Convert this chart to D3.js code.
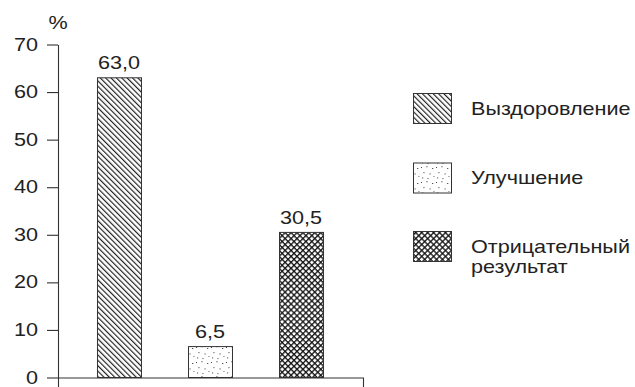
<!DOCTYPE html>
<html><head><meta charset="utf-8">
<script src="https://cdn.jsdelivr.net/npm/d3@7"></script>
<style>body{margin:0;background:#fff}svg{display:block}text{font-family:"Liberation Sans",Arial,sans-serif;fill:#222}</style>
</head><body>
<script>
const categories = ["Выздоровление", "Улучшение", "Отрицательный результат"];
const values = [63.0, 6.5, 30.5];
const valueLabels = ["63,0", "6,5", "30,5"];
const yTicks = [0, 10, 20, 30, 40, 50, 60, 70];
const legendLines = [["Выздоровление"], ["Улучшение"], ["Отрицательный", "результат"]];
const patternIds = ["hatch", "dots", "cross"];

const W = 635, H = 387, SX = 1.2, FS = 18;
const svg = d3.select("body").append("svg").attr("width", W).attr("height", H);
const defs = svg.append("defs");

// diagonal hatch
const p1 = defs.append("pattern").attr("id", "hatch").attr("patternUnits", "userSpaceOnUse")
  .attr("width", 3.8).attr("height", 3.8).attr("patternTransform", "rotate(-45)");
p1.append("rect").attr("width", 3.8).attr("height", 3.8).attr("fill", "#fff");
p1.append("line").attr("x1", 0.6).attr("y1", 0).attr("x2", 0.6).attr("y2", 3.8).attr("stroke", "#111").attr("stroke-width", 1.1);

// stipple
const p2 = defs.append("pattern").attr("id", "dots").attr("patternUnits", "userSpaceOnUse")
  .attr("width", 15).attr("height", 15);
p2.append("rect").attr("width", 15).attr("height", 15).attr("fill", "#fff");
const dotPts = [[1,2,1,1],[6.5,1,0.9,1.3],[12,3,1.3,0.9],[3.5,7,0.9,1.2],[9.5,8.5,1.2,0.9],[13.5,11,0.9,0.9],[2,12.5,1.2,0.9],[7.5,13,0.9,1.1]];
dotPts.forEach(d => p2.append("rect").attr("x", d[0]).attr("y", d[1]).attr("width", d[2]).attr("height", d[3]).attr("fill", "#444"));

// crosshatch
const p3 = defs.append("pattern").attr("id", "cross").attr("patternUnits", "userSpaceOnUse")
  .attr("width", 4.2).attr("height", 4.2).attr("patternTransform", "rotate(45)");
p3.append("rect").attr("width", 4.2).attr("height", 4.2).attr("fill", "#fff");
p3.append("line").attr("x1", 0.7).attr("y1", 0).attr("x2", 0.7).attr("y2", 4.2).attr("stroke", "#111").attr("stroke-width", 1.3);
p3.append("line").attr("x1", 0).attr("y1", 0.7).attr("x2", 4.2).attr("y2", 0.7).attr("stroke", "#111").attr("stroke-width", 1.3);

const y = d3.scaleLinear().domain([0, 70]).range([377, 44]);
const x = d3.scaleBand().domain(categories).range([73.5, 346.5]).paddingInner(47/91).paddingOuter(0.258);

function stext(parent, tx, ty, str, anchor) {
  const g = parent.append("g").attr("transform", `translate(${tx},${ty}) scale(${SX},1)`);
  return g.append("text").attr("text-anchor", anchor || "start").attr("font-size", FS).text(str);
}

// bars
svg.append("g").selectAll("rect").data(values).join("rect")
  .attr("x", (d, i) => x(categories[i]) + 0.5)
  .attr("y", d => y(d) + 0.5)
  .attr("width", x.bandwidth())
  .attr("height", d => y(0) - y(d))
  .attr("fill", (d, i) => `url(#${patternIds[i]})`)
  .attr("stroke", "#333").attr("stroke-width", 1);

// value labels
values.forEach((v, i) => stext(svg, x(categories[i]) + x.bandwidth() / 2, y(v) - 8, valueLabels[i], "middle"));

// y axis
const ya = svg.append("g").attr("transform", "translate(58,0.5)")
  .call(d3.axisLeft(y).tickValues(yTicks).tickSize(11).tickSizeOuter(0).tickPadding(9).tickFormat(d3.format("d")));
ya.selectAll("path,line").attr("stroke", "#333").attr("stroke-width", 1.1);
ya.selectAll("text").remove();
yTicks.forEach(t => stext(svg, 38, y(t) + 6.5, String(t), "end"));

// x axis (domain with down-turned ends)
const xa = svg.append("g").attr("transform", "translate(0,377.5)")
  .call(d3.axisBottom(d3.scaleLinear().range([58, 363])).tickValues([]).tickSizeOuter(10));
xa.selectAll("path").attr("stroke", "#333").attr("stroke-width", 1.1).attr("fill", "none");

// % label
stext(svg, 58, 29, "%", "middle");

// legend
const legY = [93, 162.5, 231];
legendLines.forEach((lines, i) => {
  svg.append("rect").attr("x", 413.5).attr("y", legY[i] + 0.5).attr("width", 38).attr("height", 30)
    .attr("fill", `url(#${patternIds[i]})`).attr("stroke", "#333").attr("stroke-width", 1);
  lines.forEach((ln, j) => stext(svg, 471, legY[i] + 21.5 + j * 20.5, ln, "start"));
});
</script>
</body></html>
